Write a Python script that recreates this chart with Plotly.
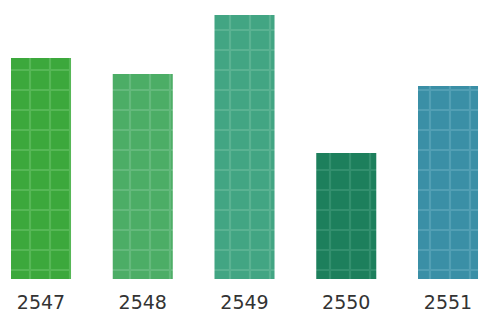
import plotly.graph_objects as go

years = ["2547", "2548", "2549", "2550", "2551"]
values = [221, 205, 264, 126, 193]
bg_colors = ["#3ca83c", "#4cad66", "#42a583", "#1d7f5c", "#3a8fa6"]
fg_colors = ["#6fc66f", "#7cc592", "#72bfa2", "#4a9f80", "#6aafc2"]

x_pos = list(range(len(years)))

fig = go.Figure()
for i in range(len(years)):
    fig.add_trace(
        go.Bar(
            x=[x_pos[i]],
            y=[values[i]],
            width=0.59,
            marker=dict(
                color=bg_colors[i],
                line=dict(width=0),
                pattern=dict(
                    shape="+",
                    fgcolor=fg_colors[i],
                    size=20,
                    solidity=0.2,
                    fillmode="overlay",
                ),
            ),
            hoverinfo="skip",
        )
    )

fig.update_layout(
    width=482,
    height=314,
    margin=dict(l=0, r=0, t=0, b=35),
    paper_bgcolor="white",
    plot_bgcolor="white",
    showlegend=False,
    barmode="overlay",
    xaxis=dict(
        range=[-0.403, 4.334],
        tickmode="array",
        tickvals=x_pos,
        ticktext=years,
        showgrid=False,
        zeroline=False,
        showline=False,
        ticks="",
        automargin=False,
        ticklabelstandoff=10,
        tickfont=dict(family="DejaVu Sans", size=19, color="#333333"),
    ),
    yaxis=dict(
        range=[0, 279],
        visible=False,
        showgrid=False,
        zeroline=False,
    ),
)

fig.write_html(
    "out.html",
    config={"displayModeBar": False},
    post_script="document.body.style.margin='0';document.body.style.overflow='hidden';",
)
